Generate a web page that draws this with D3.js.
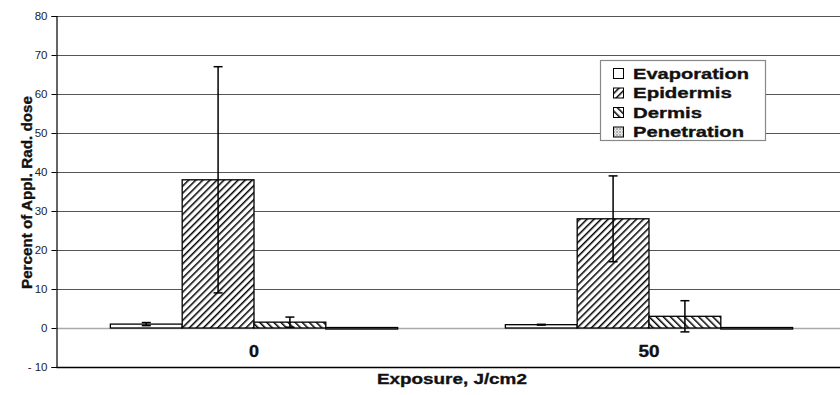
<!DOCTYPE html>
<html>
<head>
<meta charset="utf-8">
<script src="https://cdn.jsdelivr.net/npm/d3@7"></script>
<style>
  html, body { margin: 0; padding: 0; background: #fff; }
  svg { display: block; font-family: "Liberation Sans", Arial, sans-serif; }
  .heavy { stroke: #111; stroke-width: 0.35px; paint-order: stroke; }
</style>
</head>
<body>
<svg id="chart" width="840" height="395"></svg>
<script>
// Exposure groups and the four fate compartments
const categories = ["0", "50"];
const seriesNames = ["Evaporation", "Epidermis", "Dermis", "Penetration"];
// Mean percent of applied radioactive dose per compartment, by exposure
const evaporation = [1.0, 0.85];
const epidermis = [38, 28];
const dermis = [1.5, 3.0];
const penetration = [0.12, 0.12];
// Error bar half-widths (±)
const evaporationErr = [0.4, 0.1];
const epidermisErr = [29, 11];
const dermisErr = [1.3, 4.0];
const penetrationErr = [0, 0];
const yTicks = [-10, 0, 10, 20, 30, 40, 50, 60, 70, 80];

const values = [evaporation, epidermis, dermis, penetration];
const errors = [evaporationErr, epidermisErr, dermisErr, penetrationErr];

// Wide bold lettering: widths of the text runs
const legendWidths = [116, 99, 69, 111];
const categoryWidths = [10, 21];

const svg = d3.select("#chart");
const margin = { left: 56.5, right: 846.5, top: 16, bottom: 367 };

// Stretch a text element horizontally so it spans `w` pixels, starting at (x, y)
function widen(sel, x, y, w, rotate) {
  sel.each(function () {
    const natural = this.getComputedTextLength();
    const sx = w / natural;
    d3.select(this).attr("x", 0).attr("y", 0)
      .attr("transform", `translate(${x},${y})${rotate ? ` rotate(${rotate})` : ""} scale(${sx},1)`);
  });
}

const x0 = d3.scaleBand().domain(categories).range([margin.left, margin.right]).paddingInner(0).paddingOuter(0);
const y = d3.scaleLinear().domain([-10, 80]).range([margin.bottom, margin.top]);
// Bars fill 4/(4+1.5) of each category band (gap width 150%)
const barW = x0.bandwidth() / (seriesNames.length + 1.5);
const x1 = d3.scaleBand().domain(seriesNames)
  .range([x0.bandwidth() / 2 - barW * 2, x0.bandwidth() / 2 + barW * 2]).padding(0);

// Fill patterns
const defs = svg.append("defs");
const pEpi = defs.append("pattern").attr("id", "pat-epi").attr("patternUnits", "userSpaceOnUse")
  .attr("width", 5).attr("height", 5).attr("patternTransform", "rotate(45)");
pEpi.append("rect").attr("width", 5).attr("height", 5).attr("fill", "#fff");
pEpi.append("line").attr("x1", 0).attr("y1", 0).attr("x2", 0).attr("y2", 5)
  .attr("stroke", "#000").attr("stroke-width", 3);
const pDer = defs.append("pattern").attr("id", "pat-der").attr("patternUnits", "userSpaceOnUse")
  .attr("width", 5).attr("height", 5).attr("patternTransform", "rotate(-45)");
pDer.append("rect").attr("width", 5).attr("height", 5).attr("fill", "#fff");
pDer.append("line").attr("x1", 0).attr("y1", 0).attr("x2", 0).attr("y2", 5)
  .attr("stroke", "#000").attr("stroke-width", 3);
const pPen = defs.append("pattern").attr("id", "pat-pen").attr("patternUnits", "userSpaceOnUse")
  .attr("width", 3).attr("height", 3);
pPen.append("rect").attr("width", 3).attr("height", 3).attr("fill", "#fff");
pPen.append("rect").attr("width", 1).attr("height", 1).attr("fill", "#000");
pPen.append("rect").attr("x", 1.5).attr("y", 1.5).attr("width", 1).attr("height", 1).attr("fill", "#333");
const fills = ["#fff", "url(#pat-epi)", "url(#pat-der)", "url(#pat-pen)"];

// Gridlines
svg.append("g").selectAll("line").data(yTicks.filter(t => t > -10 && t !== 0)).join("line")
  .attr("x1", margin.left).attr("x2", margin.right)
  .attr("y1", d => Math.round(y(d)) + 0.5).attr("y2", d => Math.round(y(d)) + 0.5)
  .attr("stroke", "#555").attr("stroke-width", 1);
// Zero line
svg.append("line").attr("x1", margin.left).attr("x2", margin.right)
  .attr("y1", Math.round(y(0)) + 0.5).attr("y2", Math.round(y(0)) + 0.5)
  .attr("stroke", "#aaa").attr("stroke-width", 1.5);
// Bottom border
svg.append("line").attr("x1", margin.left).attr("x2", margin.right)
  .attr("y1", Math.round(y(-10)) + 0.5).attr("y2", Math.round(y(-10)) + 0.5)
  .attr("stroke", "#000").attr("stroke-width", 1.3);

// Y axis
const yAxis = svg.append("g").attr("transform", `translate(${margin.left},0)`)
  .call(d3.axisLeft(y).tickValues(yTicks).tickSize(5).tickPadding(4).tickFormat(d3.format("d")));
yAxis.select(".domain").attr("stroke", "#000").attr("stroke-width", 1.2);
yAxis.selectAll(".tick line").attr("stroke", "#000");
yAxis.selectAll(".tick text").attr("font-size", 11.5).attr("fill", "#222")
  .attr("font-family", "Liberation Sans, Arial, sans-serif")
  .text(d => d < 0 ? "- " + Math.abs(d) : d);

// Bars
const groups = svg.append("g").selectAll("g").data(categories).join("g")
  .attr("transform", d => `translate(${x0(d)},0)`);
groups.each(function (cat, ci) {
  const g = d3.select(this);
  seriesNames.forEach((s, si) => {
    const v = values[si][ci];
    g.append("rect")
      .attr("x", x1(s)).attr("width", x1.bandwidth())
      .attr("y", y(Math.max(v, 0))).attr("height", Math.max(Math.abs(y(v) - y(0)), 1.5))
      .attr("fill", fills[si]).attr("stroke", "#000").attr("stroke-width", 1.3);
  });
  seriesNames.forEach((s, si) => {
    const v = values[si][ci], e = errors[si][ci];
    if (!e) return;
    const cx = x1(s) + x1.bandwidth() / 2;
    g.append("line").attr("x1", cx).attr("x2", cx).attr("y1", y(v + e)).attr("y2", y(v - e))
      .attr("stroke", "#000").attr("stroke-width", 1.5);
    [v + e, v - e].forEach(t => {
      g.append("line").attr("x1", cx - 4.5).attr("x2", cx + 4.5).attr("y1", y(t)).attr("y2", y(t))
        .attr("stroke", "#000").attr("stroke-width", 1.5);
    });
  });
});

// Category labels
svg.append("g").selectAll("text").data(categories).join("text")
  .attr("class", "heavy")
  .attr("font-size", 16).attr("font-weight", "bold").attr("fill", "#111")
  .text(d => d)
  .each(function (d, i) {
    widen(d3.select(this), x0(d) + x0.bandwidth() / 2 - categoryWidths[i] / 2, 357, categoryWidths[i]);
  });

// Axis titles
svg.append("text").attr("class", "heavy").attr("font-size", 15).attr("font-weight", "bold").attr("fill", "#111")
  .text("Exposure, J/cm2").call(widen, 377, 384, 150);
svg.append("text").attr("class", "heavy").attr("font-size", 14.5).attr("font-weight", "bold").attr("fill", "#111")
  .text("Percent of Appl. Rad. dose").call(widen, 31.5, 289, 193, -90);

// Legend
const legend = svg.append("g").attr("transform", "translate(600.5,60.5)");
legend.append("rect").attr("width", 165).attr("height", 80).attr("fill", "#fff")
  .attr("stroke", "#888").attr("stroke-width", 1.2);
seriesNames.forEach((s, i) => {
  const row = legend.append("g").attr("transform", `translate(13,${12.5 + i * 19.5})`);
  row.append("rect").attr("x", 0).attr("y", -4.5).attr("width", 10).attr("height", 10)
    .attr("fill", fills[i]).attr("stroke", "#000").attr("stroke-width", 1);
  row.append("text").attr("class", "heavy").attr("font-size", 15.5).attr("font-weight", "bold").attr("fill", "#111")
    .text(s).call(widen, 19.5, 5.5, legendWidths[i]);
});
</script>
</body>
</html>
